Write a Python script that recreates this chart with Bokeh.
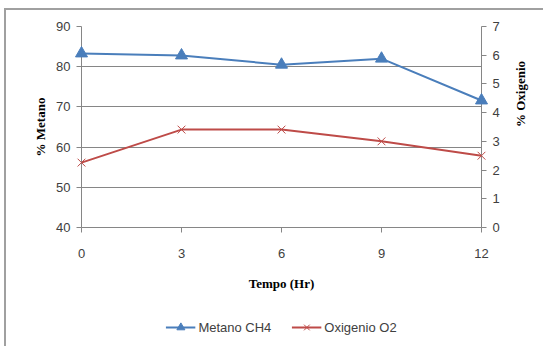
import math
from bokeh.plotting import figure
from bokeh.layouts import column
from bokeh.models import Range1d, LinearAxis, Legend, LegendItem, FixedTicker
from bokeh.embed import file_html
from bokeh.resources import INLINE

tempo = [0, 3, 6, 9, 12]
metano_ch4 = [83.3, 82.8, 80.5, 82.0, 71.6]
oxigenio_o2 = [2.26, 3.41, 3.41, 3.0, 2.5]
x_ticks = [0, 3, 6, 9, 12]
left_ticks = [40, 50, 60, 70, 80, 90]
right_ticks = [0, 1, 2, 3, 4, 5, 6, 7]
series_names = ["Metano CH4", "Oxigenio O2"]

BLUE = "#4a7ebb"
RED = "#be4b48"
GRID = "#868686"
TXT = "#404040"
TICK_FONT = "Liberation Sans"

p = figure(width=537, height=298, output_backend="svg", toolbar_location=None,
           x_range=Range1d(0, 12), y_range=Range1d(40, 90),
           min_border_left=75, min_border_right=62, min_border_top=16,
           min_border_bottom=81)
p.frame_width = 400
p.frame_height = 201
p.outline_line_color = None
p.background_fill_color = "white"
p.border_fill_color = "white"

p.extra_y_ranges = {"o2": Range1d(0, 7)}

# grid
p.xgrid.visible = False
p.ygrid.ticker = FixedTicker(ticks=left_ticks)
p.ygrid.grid_line_color = GRID
p.ygrid.grid_line_width = 1


def style_axis(ax, label, tick_standoff, label_standoff):
    ax.axis_label = label
    ax.axis_label_text_font = "Liberation Serif"
    ax.axis_label_text_font_style = "bold"
    ax.axis_label_text_font_size = "13px"
    ax.axis_label_text_color = "black"
    ax.axis_label_standoff = label_standoff
    ax.major_label_text_font = TICK_FONT
    ax.major_label_text_font_size = "13px"
    ax.major_label_text_color = TXT
    ax.axis_line_color = GRID
    ax.major_tick_line_color = GRID
    ax.major_tick_out = 5
    ax.major_tick_in = 0
    ax.minor_tick_line_color = None
    ax.major_label_standoff = tick_standoff


ya = p.yaxis[0]
ya.ticker = FixedTicker(ticks=left_ticks)
style_axis(ya, "% Metano", 6, 5)

xa = p.xaxis[0]
xa.ticker = FixedTicker(ticks=x_ticks)
style_axis(xa, "Tempo (Hr)", 16, 15)

ra = LinearAxis(y_range_name="o2", ticker=FixedTicker(ticks=right_ticks))
style_axis(ra, "% Oxigenio", 6, 18)
ra.axis_label_orientation = math.pi / 2
p.add_layout(ra, "right")

# series
l1 = p.line(tempo, metano_ch4, line_color=BLUE, line_width=2)
m1 = p.scatter(tempo, metano_ch4, marker="triangle", size=12,
               fill_color=BLUE, line_color=BLUE)
l2 = p.line(tempo, oxigenio_o2, line_color=RED, line_width=2, y_range_name="o2")
m2 = p.scatter(tempo, oxigenio_o2, marker="x", size=11, line_color=RED,
               line_width=1, y_range_name="o2")
for r in (m1, m2):
    r.level = "overlay"

# legend strip (separate small figure below the chart); its key glyphs
# hold one point placed outside the strip's visible range
pl = figure(width=537, height=38, output_backend="svg", toolbar_location=None,
            x_axis_location=None, y_axis_location=None,
            x_range=Range1d(0, 1), y_range=Range1d(0, 1),
            min_border=0)
pl.grid.visible = False
pl.outline_line_color = None
pl.border_fill_color = "white"
off = [-100]
k1 = pl.line(off, off, line_color=BLUE, line_width=2)
k1m = pl.scatter(off, off, marker="triangle", size=12, fill_color=BLUE, line_color=BLUE)
k2 = pl.line(off, off, line_color=RED, line_width=2)
k2m = pl.scatter(off, off, marker="x", size=11, line_color=RED, line_width=1)

legend = Legend(items=[LegendItem(label=series_names[0], renderers=[k1, k1m]),
                       LegendItem(label=series_names[1], renderers=[k2, k2m])],
                orientation="horizontal", location="center",
                label_text_font=TICK_FONT, label_text_font_size="13px",
                label_text_color=TXT, glyph_width=30, spacing=20,
                label_standoff=3,
                border_line_color=None, background_fill_alpha=0,
                padding=2, margin=0)
pl.add_layout(legend, "center")

layout = column(p, pl, spacing=0)
layout.styles = {"margin-left": "4px", "margin-top": "8px",
                 "border-left": "2px solid #a0a0a0", "border-top": "2px solid #a0a0a0"}

open("out.html", "w").write(file_html(layout, INLINE))
